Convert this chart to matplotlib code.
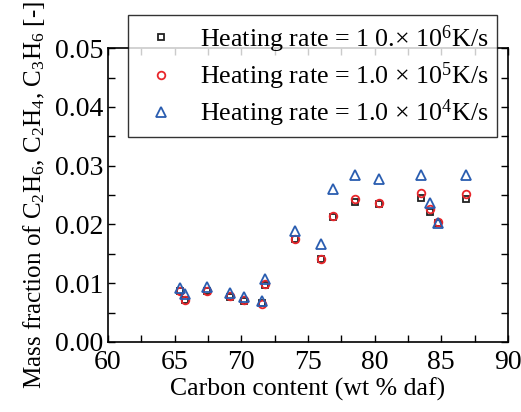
import numpy as np
import matplotlib
matplotlib.use('Agg')
import matplotlib.pyplot as plt
from matplotlib.ticker import MultipleLocator

plt.rcParams['font.family'] = ['Liberation Serif', 'DejaVu Serif']
plt.rcParams['mathtext.fontset'] = 'custom'
plt.rcParams['mathtext.rm'] = 'Liberation Serif'
plt.rcParams['mathtext.it'] = 'Liberation Serif:italic'

carbon = [65.4, 65.8, 67.4, 69.15, 70.2, 71.55, 71.8, 74.0, 76.0, 76.9,
          78.5, 80.3, 83.5, 84.15, 84.75, 86.85]
rate_1e6 = [0.0086, 0.0071, 0.0086, 0.0077, 0.0070, 0.0066, 0.0097, 0.0175,
            0.0141, 0.0212, 0.0238, 0.0235, 0.0245, 0.0221, 0.0203, 0.0244]
rate_1e5 = [0.0087, 0.0072, 0.0087, 0.0078, 0.0071, 0.0065, 0.0098, 0.0176,
            0.0142, 0.0215, 0.0244, 0.0236, 0.0253, 0.0227, 0.0204, 0.0251]
rate_1e4 = [0.0091, 0.0081, 0.0094, 0.0083, 0.0076, 0.0070, 0.0107, 0.0189,
            0.0167, 0.0261, 0.0285, 0.0278, 0.0285, 0.0237, 0.0203, 0.0284]
labels = [r'Heating rate = 1 0.$\times$ 10$^6$K/s',
          r'Heating rate = 1.0 $\times$ 10$^5$K/s',
          r'Heating rate = 1.0 $\times$ 10$^4$K/s']

fig = plt.figure(figsize=(5.21, 4.12), dpi=100)
ax = fig.add_axes([0.207, 0.170, 0.768, 0.713])

ax.plot(carbon, rate_1e6, linestyle='none', marker='s', ms=4.5, mfc='none',
        mec='#222222', mew=1.3, label=labels[0])
ax.plot(carbon, rate_1e5, linestyle='none', marker='o', ms=5.5, mfc='none',
        mec='#e8262b', mew=1.3, label=labels[1])
ax.plot(carbon, rate_1e4, linestyle='none', marker='^', ms=6.5, mfc='none',
        mec='#2a5db0', mew=1.3, label=labels[2])

ax.set_xlim(60, 90)
ax.set_ylim(0, 0.05)
ax.xaxis.set_major_locator(MultipleLocator(5))
ax.xaxis.set_minor_locator(MultipleLocator(2.5))
ax.yaxis.set_major_locator(MultipleLocator(0.01))
ax.yaxis.set_minor_locator(MultipleLocator(0.005))
ax.yaxis.set_major_formatter(plt.FormatStrFormatter('%.2f'))
ax.tick_params(which='both', direction='in', top=True, right=True,
               labelsize=20, width=1, length=5)
ax.tick_params(axis='x', pad=6)
ax.tick_params(axis='y', pad=3)
for s in ax.spines.values():
    s.set_linewidth(1.2)

ax.set_xlabel('Carbon content (wt % daf)', fontsize=18.5, labelpad=2)
ax.set_ylabel(r'Mass fraction of C$_2$H$_6$, C$_2$H$_4$, C$_3$H$_6$ [-]',
              fontsize=18, labelpad=6)

leg = ax.legend(loc='upper right', bbox_to_anchor=(0.9725, 1.112), borderaxespad=0,
                fontsize=18.7, frameon=True, fancybox=False, edgecolor='black',
                handletextpad=0.5, borderpad=0.3, labelspacing=0.22,
                handlelength=2.0)
leg.get_frame().set_linewidth(1.0)

fig.text(0.56, 1.005, '(c)', fontsize=18, ha='center', va='bottom')

fig.savefig('out.png', dpi=100)
